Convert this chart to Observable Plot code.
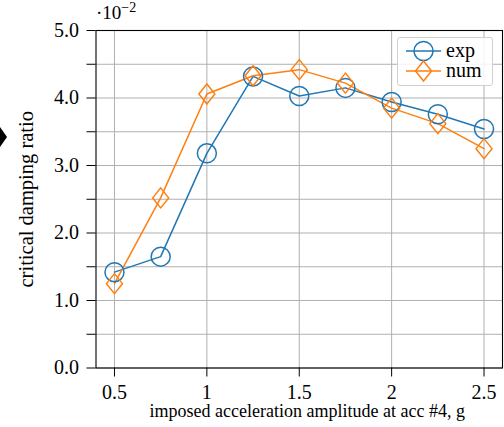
<!DOCTYPE html>
<html>
<head>
<meta charset="utf-8">
<script src="https://cdn.jsdelivr.net/npm/d3@7"></script>
<script src="https://cdn.jsdelivr.net/npm/@observablehq/plot@0.6"></script>
<style>
  html, body { margin: 0; padding: 0; background: #fff; }
  #wrap { position: relative; width: 504px; height: 427px; font-family: "Liberation Serif", "Times New Roman", serif; color: #000; }
  #exp10 { position: absolute; left: 96px; top: 3px; font-size: 19px; line-height: 1; }
  #exp10 sup { font-size: 14px; vertical-align: 0; position: relative; top: -7px; }
  #legend { position: absolute; left: 397px; top: 37px; width: 96px; height: 49px; box-sizing: border-box;
            border: 1px solid #d0d0d0; border-radius: 3px; background: rgba(255,255,255,0.85); }
  #legend svg { position: absolute; left: 0; top: 0; }
</style>
</head>
<body>
<div id="wrap"></div>
<script>
// ---- data ----
const amplitudes = [0.5, 0.75, 1.0, 1.25, 1.5, 1.75, 2.0, 2.25, 2.5];
const expValues  = [1.42, 1.65, 3.18, 4.32, 4.03, 4.15, 3.94, 3.76, 3.54];
const numValues  = [1.25, 2.52, 4.06, 4.33, 4.42, 4.22, 3.85, 3.62, 3.25];
const seriesNames = ["exp", "num"];
const seriesColors = ["#1f77b4", "#ff7f0e"];
const xTicks = [0.5, 1, 1.5, 2, 2.5];
const yTicks = [0, 0.5, 1, 1.5, 2, 2.5, 3, 3.5, 4, 4.5, 5];
const xLabel = "imposed acceleration amplitude at acc #4, g";
const yLabel = "critical damping ratio";

const expData = amplitudes.map((x, i) => ({x, y: expValues[i]}));
const numData = amplitudes.map((x, i) => ({x, y: numValues[i]}));

// matplotlib-like diamond (slightly narrower than tall)
const diamond = {
  draw(ctx, size) {
    const r = Math.sqrt(size / Math.PI);
    const w = r * 0.8;
    ctx.moveTo(0, -r); ctx.lineTo(w, 0); ctx.lineTo(0, r); ctx.lineTo(-w, 0); ctx.closePath();
  }
};

const chart = Plot.plot({
  width: 504,
  height: 427,
  marginLeft: 95.5,
  marginRight: 2,
  marginTop: 30,
  marginBottom: 59.5,
  style: { fontFamily: "'Liberation Serif', 'Times New Roman', serif", fontSize: "20px", background: "#fff", color: "#000", overflow: "visible" },
  x: { domain: [0.4, 2.6] },
  y: { domain: [0, 5] },
  marks: [
    Plot.gridX(xTicks, { stroke: "#b0b0b0", strokeOpacity: 1, strokeWidth: 1 }),
    Plot.gridY(yTicks, { stroke: "#b0b0b0", strokeOpacity: 1, strokeWidth: 1 }),
    Plot.frame({ stroke: "#000", strokeWidth: 1.1 }),
    Plot.axisX({ ticks: xTicks, tickSize: 9, tickPadding: 8, tickFormat: d => String(d), label: null, fontSize: 20 }),
    Plot.axisY({ ticks: yTicks, tickSize: 9, tickPadding: 8, tickFormat: d => Number.isInteger(d) ? d.toFixed(1) : "", label: null, fontSize: 20 }),
    Plot.text([xLabel], { frameAnchor: "bottom", lineAnchor: "bottom", dy: 49, dx: 8, fontSize: 18 }),
    Plot.text([yLabel], { frameAnchor: "left", textAnchor: "middle", rotate: -90, lineAnchor: "middle", dx: -70, fontSize: 20.5 }),
    Plot.line(expData, { x: "x", y: "y", stroke: seriesColors[0], strokeWidth: 1.5 }),
    Plot.line(numData, { x: "x", y: "y", stroke: seriesColors[1], strokeWidth: 1.5 }),
    Plot.dot(expData, { x: "x", y: "y", r: 9.5, stroke: seriesColors[0], strokeWidth: 1.5, fill: "none" }),
    Plot.dot(numData, { x: "x", y: "y", r: 10, symbol: diamond, stroke: seriesColors[1], strokeWidth: 1.5, fill: "none" })
  ]
});

const wrap = document.getElementById("wrap");
wrap.appendChild(chart);

// exponent annotation
const ex = document.createElement("div");
ex.id = "exp10";
ex.innerHTML = "·10<sup>−2</sup>";
wrap.appendChild(ex);

// legend
const lg = document.createElement("div");
lg.id = "legend";
const ns = "http://www.w3.org/2000/svg";
const svg = document.createElementNS(ns, "svg");
svg.setAttribute("width", 96); svg.setAttribute("height", 49);
seriesNames.forEach((name, i) => {
  const cy = 13 + i * 20;
  const line = document.createElementNS(ns, "line");
  line.setAttribute("x1", 8); line.setAttribute("x2", 43); line.setAttribute("y1", cy); line.setAttribute("y2", cy);
  line.setAttribute("stroke", seriesColors[i]); line.setAttribute("stroke-width", 1.5);
  svg.appendChild(line);
  let m;
  if (i === 0) {
    m = document.createElementNS(ns, "circle");
    m.setAttribute("cx", 25.5); m.setAttribute("cy", cy); m.setAttribute("r", 9.5);
  } else {
    m = document.createElementNS(ns, "path");
    m.setAttribute("d", `M25.5,${cy-10}L33.5,${cy}L25.5,${cy+10}L17.5,${cy}Z`);
  }
  m.setAttribute("fill", "none"); m.setAttribute("stroke", seriesColors[i]); m.setAttribute("stroke-width", 1.5);
  svg.appendChild(m);
  const t = document.createElementNS(ns, "text");
  t.setAttribute("x", 48); t.setAttribute("y", cy + 6);
  t.setAttribute("font-size", 20);
  t.setAttribute("font-family", "'Liberation Serif', 'Times New Roman', serif");
  t.textContent = name;
  svg.appendChild(t);
});
lg.appendChild(svg);
wrap.appendChild(lg);

// clipped black marker at the left edge
const mk = document.createElementNS(ns, "svg");
mk.setAttribute("width", 12); mk.setAttribute("height", 160);
const poly = document.createElementNS(ns, "path");
poly.setAttribute("d", "M0,127L7,137L0,147L-7,137Z");
poly.setAttribute("fill", "#000");
mk.appendChild(poly);
mk.style.position = "absolute"; mk.style.left = "0px"; mk.style.top = "0px";
wrap.appendChild(mk);
</script>
</body>
</html>
